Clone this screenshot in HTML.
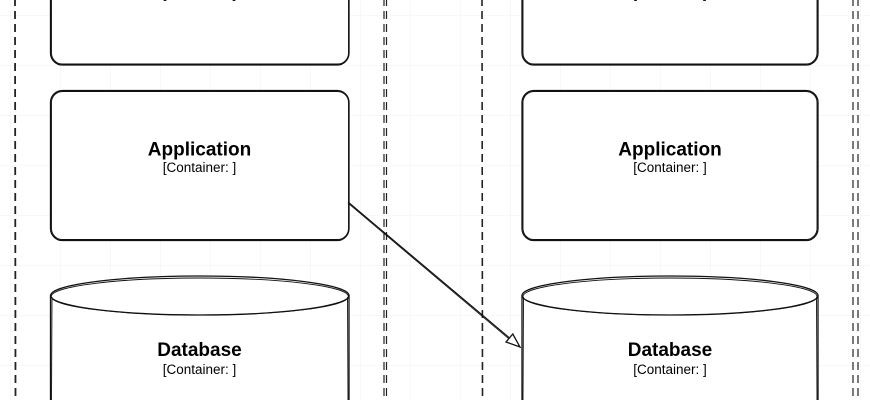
<!DOCTYPE html>
<html><head><meta charset="utf-8"><style>
html,body{margin:0;padding:0;background:#fff;}
svg{display:block;}
text{font-family:"Liberation Sans",Arial,sans-serif;}
</style></head><body>
<svg width="870" height="400" viewBox="0 0 870 400" xmlns="http://www.w3.org/2000/svg">
<defs>
<pattern id="g" x="10" y="15" width="50" height="50" patternUnits="userSpaceOnUse">
<path d="M0 0H50M0 0V50" stroke="#f0f0f0" stroke-width="1" fill="none"/>
</pattern>
</defs>
<rect width="870" height="400" fill="#fff"/>
<rect width="870" height="400" fill="url(#g)"/>

<!-- dashed boundaries -->
<g stroke="#222" stroke-width="1.8" stroke-dasharray="8 5" fill="none">
<line x1="15" y1="-2" x2="15.5" y2="400"/>
<line x1="384" y1="-2" x2="384" y2="400" stroke-width="1.2"/>
<line x1="386.5" y1="-2" x2="386.5" y2="400" stroke-width="1.2"/>
<line x1="482" y1="-2" x2="482.5" y2="400" stroke-width="1.6"/>
<line x1="853" y1="-2" x2="853" y2="400" stroke-width="1.2"/>
<line x1="858" y1="-2" x2="858" y2="400" stroke-width="1.2"/>
</g>

<!-- left column -->
<g fill="#fff" stroke="#111" stroke-width="1.3">
<rect x="50.5" y="-20" width="298.5" height="85" rx="12"/>
<rect x="50.5" y="90.5" width="298.5" height="150" rx="12"/>
<path d="M50.5 295 L50.5 410 L349 410 L349 295" />
<ellipse cx="199.8" cy="295.5" rx="149.2" ry="19.5"/>
</g>
<g fill="none" stroke="#111" stroke-width="0.9">
<rect x="51.5" y="-19" width="297" height="83" rx="11"/>
<rect x="51.5" y="91.5" width="297" height="148" rx="11"/>
<ellipse cx="199.8" cy="296.5" rx="148.5" ry="18.5"/>
<line x1="52" y1="297" x2="51.5" y2="400"/>
<line x1="347.5" y1="297" x2="348" y2="400"/>
</g>

<!-- right column -->
<g fill="#fff" stroke="#111" stroke-width="1.3">
<rect x="522" y="-20" width="296" height="85" rx="12"/>
<rect x="522" y="90.5" width="296" height="150" rx="12"/>
<path d="M522 295 L522 410 L818 410 L818 295" />
<ellipse cx="670" cy="295.5" rx="148" ry="19.5"/>
</g>
<g fill="none" stroke="#111" stroke-width="0.9">
<rect x="523" y="-19" width="294" height="83" rx="11"/>
<rect x="523" y="91.5" width="294" height="148" rx="11"/>
<ellipse cx="670" cy="296.5" rx="147" ry="18.5"/>
<line x1="523.5" y1="297" x2="523" y2="400"/>
<line x1="816.5" y1="297" x2="817" y2="400"/>
</g>

<!-- arrow -->
<g stroke="#111" fill="none">
<line x1="348" y1="202" x2="509.5" y2="338" stroke-width="1.2"/>
<line x1="349" y1="204" x2="509" y2="339" stroke-width="0.8"/>
<polygon points="520,347 506,342 512.8,334" fill="#fff" stroke-width="1.3"/>
</g>

<!-- labels -->
<g text-anchor="middle" fill="#000">
<text x="199.5" y="-2" font-size="13.5">[Container: ]</text>
<text x="199.5" y="155.5" font-size="19" font-weight="bold">Application</text>
<text x="199.5" y="172" font-size="13.5">[Container: ]</text>
<text x="199.5" y="356" font-size="19" font-weight="bold">Database</text>
<text x="199.5" y="374" font-size="13.5">[Container: ]</text>

<text x="670" y="-2" font-size="13.5">[Container: ]</text>
<text x="670" y="155.5" font-size="19" font-weight="bold">Application</text>
<text x="670" y="172" font-size="13.5">[Container: ]</text>
<text x="670" y="356" font-size="19" font-weight="bold">Database</text>
<text x="670" y="374" font-size="13.5">[Container: ]</text>
</g>
</svg>
</body></html>
